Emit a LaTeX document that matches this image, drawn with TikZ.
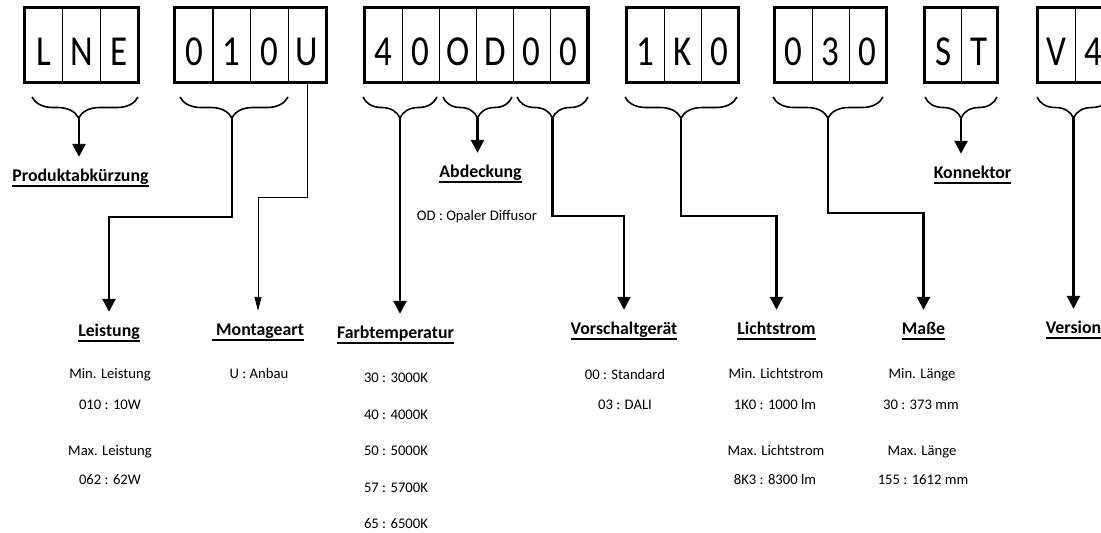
\documentclass[tikz,border=0pt]{standalone}
\usepackage{fontspec}
\setmainfont{Carlito}
\usetikzlibrary{positioning, arrows.meta, decorations.pathreplacing}

% underline at a fixed depth, as in the reference
\newcommand{\ulhead}[1]{\setbox0\hbox{#1}\rlap{\rule[-5.8pt]{\wd0}{1.5pt}}\box0}
\newcommand{\bodyfont}{\fontsize{14.67}{17.6}\selectfont}
\newcommand{\headfont}{\fontsize{17.8}{21}\selectfont\bfseries}

\tikzset{
  cell/.style={draw, line width=1.2pt, inner sep=0pt, anchor=north west,
    minimum height=73.6pt, text height=57.3pt, text depth=16.3pt,
    font=\fontsize{35}{35}\selectfont},
  frame/.style={line width=3.4pt},
  brc/.style={decorate, decoration={brace, mirror, amplitude=21pt}, line width=1.6pt},
  arr/.style={line width=2.6pt, -{Triangle[width=13pt,length=13pt]}, shorten >=12pt},
  thinarr/.style={line width=0.9pt, -{Triangle[width=7pt,length=14pt]}, shorten >=12pt},
  head/.style={font=\headfont, anchor=base, inner sep=0pt, text height=12pt, text depth=6pt},
  txt/.style={font=\bodyfont, anchor=base, inner sep=0pt}
}

\begin{document}
\begin{tikzpicture}[x=1pt, y=1pt]

\useasboundingbox (0,0) rectangle (1101,-533);

% Draw the code boxes
\foreach \c [count=\i from 0] in {L,N,E}
  \node[cell, minimum width=37.5pt] (lne-\i) at (24.7+\i*37.5, -7.7) {\scalebox{1}[1.22]{\c}};
\foreach \c [count=\i from 0] in {0,1,0,U}
  \node[cell, minimum width=37.65pt] (pwr-\i) at (174.7+\i*37.65, -7.7) {\scalebox{1}[1.22]{\c}};
\foreach \c [count=\i from 0] in {4,0,O,D,0,0}
  \node[cell, minimum width=37pt] (col-\i) at (364.7+\i*37, -7.7) {\scalebox{1}[1.22]{\c}};
\foreach \c [count=\i from 0] in {1,K,0}
  \node[cell, minimum width=37pt] (lum-\i) at (626.5+\i*37, -7.7) {\scalebox{1}[1.22]{\c}};
\foreach \c [count=\i from 0] in {0,3,0}
  \node[cell, minimum width=37pt] (dim-\i) at (774.5+\i*37, -7.7) {\scalebox{1}[1.22]{\c}};
\foreach \c [count=\i from 0] in {S,T}
  \node[cell, minimum width=36pt] (con-\i) at (924.5+\i*36, -7.7) {\scalebox{1}[1.22]{\c}};
\foreach \c [count=\i from 0] in {V,4}
  \node[cell, minimum width=37pt] (ver-\i) at (1037.5+\i*37, -7.7) {\scalebox{1}[1.22]{\c}};

% Thick outlines
\draw[frame] (lne-0.north west) rectangle (lne-2.south east);
\draw[frame] (pwr-0.north west) rectangle (pwr-3.south east);
\draw[frame] (col-0.north west) rectangle (col-5.south east);
\draw[frame] (lum-0.north west) rectangle (lum-2.south east);
\draw[frame] (dim-0.north west) rectangle (dim-2.south east);
\draw[frame] (con-0.north west) rectangle (con-1.south east);
\draw[frame] (ver-0.north west) rectangle (ver-1.south east);

% Draw the braces
\draw[brc, decoration={aspect=0.44}] (32,-97) -- (138,-97);
\draw[brc, decoration={aspect=0.48}] (180,-97) -- (288,-97);
\draw[brc] (363,-97) -- (437,-97);
\draw[brc] (443,-97) -- (512,-97);
\draw[brc] (517,-97) -- (588,-97);
\draw[brc] (625,-97) -- (737,-97);
\draw[brc] (773,-97) -- (883,-97);
\draw[brc] (925,-97) -- (997,-97);
\draw[brc] (1037,-97) -- (1110,-97);

% Brace tips
\coordinate (tLNE) at (79,-118);
\coordinate (t010) at (232,-118);
\coordinate (t40) at (400,-118);
\coordinate (tOD) at (477.5,-118);
\coordinate (t00) at (552.5,-118);
\coordinate (t1K0) at (681,-118);
\coordinate (t030) at (828,-118);
\coordinate (tST) at (961,-118);
\coordinate (tV4) at (1073.5,-118);

% Headings
\node[head] (prod) at (80.5,-181) {\ulhead{Produktabkürzung}};
\node[head] (abd) at (480.5,-177) {\ulhead{Abdeckung}};
\node[head] (kon) at (972.5,-178) {\ulhead{Konnektor}};
\node[head] (lei) at (109,-336) {\ulhead{Leistung}};
\node[head] (mon) at (258,-335) {\ulhead{\ Montageart}};
\node[head] (farb) at (395.5,-338) {\ulhead{Farbtemperatur}};
\node[head] (vor) at (624,-334) {\ulhead{Vorschaltgerät}};
\node[head] (lich) at (776.5,-334) {\ulhead{Lichtstrom}};
\node[head] (mas) at (923.5,-334) {\ulhead{Maße}};
\node[head] (vers) at (1073.5,-333) {\ulhead{Version}};

% Draw the connectors
\draw[arr] (tLNE) -- (tLNE |- prod.north);
\draw[arr] (t010) -- ++(0,-99) -| (lei.north);
\draw[thinarr] (pwr-3.south) -- ++(0,-114.7) -| (mon.north);
\draw[arr] (t40) -- (t40 |- farb.north);
\draw[arr] (tOD) -- (tOD |- abd.north);
\draw[arr] (t00) -- ++(0,-98) -| (vor.north);
\draw[arr] (t1K0) -- ++(0,-98) -| (lich.north);
\draw[arr] (t030) -- ++(0,-95) -| (mas.north);
\draw[arr] (tST) -- (tST |- kon.north);
\draw[arr] (tV4) -- (tV4 |- vers.north);

% Values
\node[txt] (abd-1) at (477,-220) {OD : Opaler Diffusor};

\node[txt] (lei-1) at (110,-378) {Min. Leistung};
\node[txt] (lei-2) at (110,-409) {010 : 10W};
\node[txt] (lei-3) at (110,-455) {Max. Leistung};
\node[txt] (lei-4) at (110,-484) {062 : 62W};

\node[txt] (mon-1) at (259,-378) {U : Anbau};

\node[txt] (farb-1) at (396,-382) {30 : 3000K};
\node[txt] (farb-2) at (396,-419) {40 : 4000K};
\node[txt] (farb-3) at (396,-455.5) {50 : 5000K};
\node[txt] (farb-4) at (396,-492) {57 : 5700K};
\node[txt] (farb-5) at (396,-528.5) {65 : 6500K};

\node[txt] (vor-1) at (625,-379) {00 : Standard};
\node[txt] (vor-2) at (625,-409) {03 : DALI};

\node[txt] (lich-1) at (776,-378) {Min. Lichtstrom};
\node[txt] (lich-2) at (775,-409) {1K0 : 1000 lm};
\node[txt] (lich-3) at (776,-455) {Max. Lichtstrom};
\node[txt] (lich-4) at (775,-484) {8K3 : 8300 lm};

\node[txt] (mas-1) at (922,-378) {Min. Länge};
\node[txt] (mas-2) at (921,-409) {30 : 373 mm};
\node[txt] (mas-3) at (922,-455) {Max. Länge};
\node[txt] (mas-4) at (923,-484) {155 : 1612 mm};

\end{tikzpicture}
\end{document}
